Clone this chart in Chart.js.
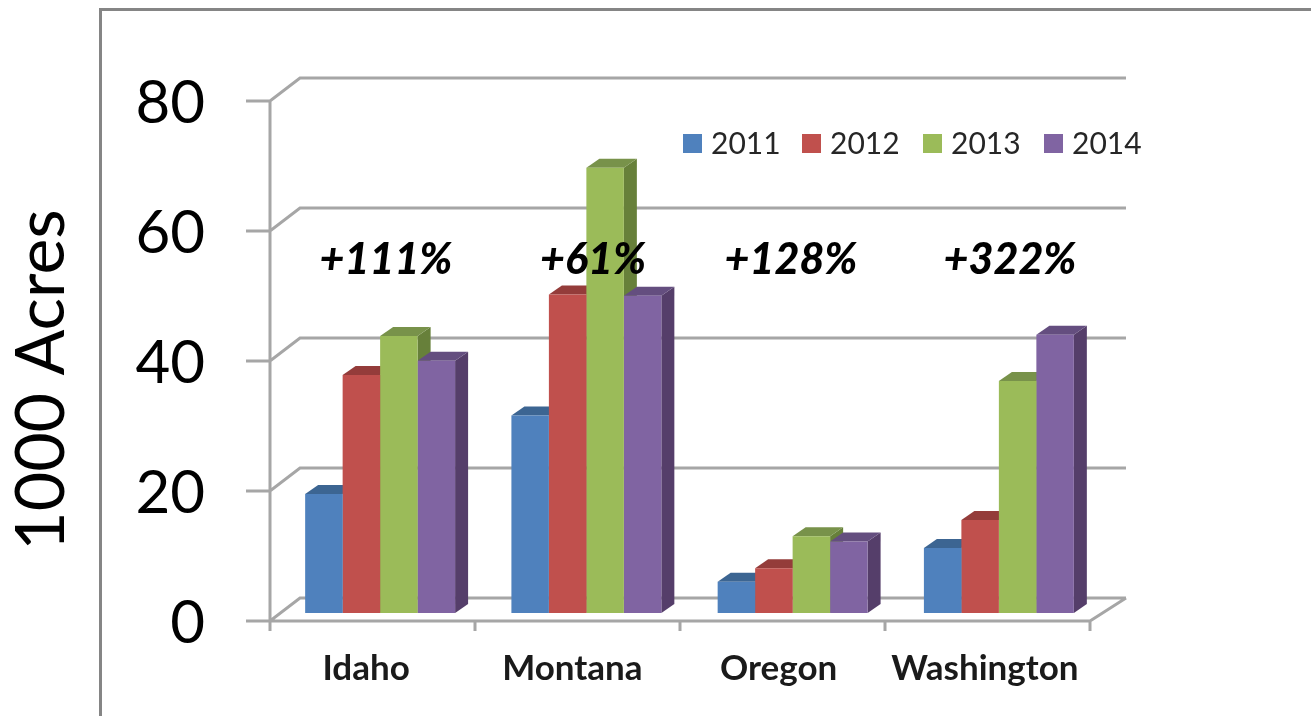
<!DOCTYPE html>
<html>
<head>
<meta charset="utf-8">
<title>1000 Acres by state</title>
<script src="https://cdn.jsdelivr.net/npm/chart.js@4"></script>
<style>
    html, body { margin: 0; padding: 0; background: #fff; overflow: hidden; }
    #frame { position: absolute; left: 99px; top: 8px; right: 0; bottom: 0; border-left: 3px solid #858585; border-top: 3px solid #858585; }
    #graph { position: absolute; left: 0; top: 0; }
</style>
</head>
<body>
<div id="frame"></div>
<canvas id="graph" width="1311" height="716"></canvas>
<script>
const states = ['Idaho', 'Montana', 'Oregon', 'Washington'];
const years = ['2011', '2012', '2013', '2014'];
const values2011 = [18.3, 30.4, 4.8, 10];
const values2012 = [36.6, 49, 6.9, 14.3];
const values2013 = [42.6, 68.5, 11.8, 35.7];
const values2014 = [38.8, 48.8, 11, 42.8];
const changes = ['+111%', '+61%', '+128%', '+322%'];
const changeX = [386, 593, 791, 1010];

const frontColors = ['#4f81bd', '#c0504d', '#9bbb59', '#8064a2'];
const topColors = ['#3c6592', '#943c3a', '#78924a', '#644e7f'];
const sideColors = ['#355a84', '#843533', '#67803a', '#553e6a'];
const legendBoxX = [683, 802, 923, 1044];

const lineColor = '#a6a6a6';
const fontName = 'Lato, "Open Sans", sans-serif';

// the walls and floor of the fake 3d box, behind the bars
const wallPlugin = {
    id: 'walls',
    beforeDatasetsDraw(chart) {
        const ctx = chart.ctx;
        const y = chart.scales.y;
        const left = 270, right = 1090, backLeft = 300, backRight = 1126;
        const shift = 8, rise = 23;

        ctx.save();
        ctx.strokeStyle = lineColor;
        ctx.lineWidth = 3;
        ctx.beginPath();

        // front axis
        ctx.moveTo(left, y.getPixelForValue(80) + shift);
        ctx.lineTo(left, y.getPixelForValue(0) + shift + 10);

        y.ticks.forEach(function (t) {
            let py = y.getPixelForValue(t.value) + shift;
            ctx.moveTo(246, py);
            ctx.lineTo(left, py);
            ctx.lineTo(backLeft, py - rise);
            ctx.lineTo(backRight, py - rise);
        });

        // floor
        let floor = y.getPixelForValue(0) + shift;
        ctx.moveTo(left, floor);
        ctx.lineTo(right, floor);
        ctx.lineTo(backRight, floor - rise);

        for (let i = 0; i <= states.length; i++) {
            let px = left + i * (right - left) / states.length;
            ctx.moveTo(px, floor);
            ctx.lineTo(px, floor + 10);
        }
        ctx.stroke();

        // side and top of each bar, the fronts go over them
        const dx = 13, dy = 9;
        chart.data.datasets.forEach(function (ds, d) {
            chart.getDatasetMeta(d).data.forEach(function (bar) {
                let x0 = bar.x - bar.width / 2;
                let x1 = bar.x + bar.width / 2;

                ctx.fillStyle = sideColors[d];
                ctx.beginPath();
                ctx.moveTo(x1, bar.y);
                ctx.lineTo(x1 + dx, bar.y - dy);
                ctx.lineTo(x1 + dx, bar.base - dy);
                ctx.lineTo(x1, bar.base);
                ctx.closePath();
                ctx.fill();

                ctx.fillStyle = topColors[d];
                ctx.beginPath();
                ctx.moveTo(x0, bar.y);
                ctx.lineTo(x0 + dx, bar.y - dy);
                ctx.lineTo(x1 + dx, bar.y - dy);
                ctx.lineTo(x1, bar.y);
                ctx.closePath();
                ctx.fill();
            });
        });
        ctx.restore();
    }
};

// legend, axis title and the percent notes sit on top of everything
const notesPlugin = {
    id: 'notes',
    afterDatasetsDraw(chart) {
        const ctx = chart.ctx;
        ctx.save();
        ctx.textBaseline = 'middle';

        ctx.font = '30px ' + fontName;
        ctx.textAlign = 'left';
        years.forEach(function (year, i) {
            ctx.fillStyle = frontColors[i];
            ctx.fillRect(legendBoxX[i], 134, 19, 19);
            ctx.fillStyle = '#262626';
            ctx.fillText(year, legendBoxX[i] + 28, 144);
        });

        ctx.font = 'italic 900 43px ' + fontName;
        ctx.textAlign = 'center';
        ctx.fillStyle = '#000';
        changes.forEach(function (note, i) {
            ctx.fillText(note, changeX[i], 260);
        });

        // the title is lower than the middle of the axis so it can't be an axis title
        ctx.translate(42, 380);
        ctx.rotate(-Math.PI / 2);
        ctx.font = '68px ' + fontName;
        ctx.fillText('1000 Acres', 0, 0);
        ctx.restore();
    }
};

const chartCtx = document.getElementById('graph').getContext('2d');

const chart = new Chart(chartCtx, {
    type: 'bar',
    data: {
        labels: states,
        datasets: [
            { label: years[0], data: values2011, backgroundColor: frontColors[0] },
            { label: years[1], data: values2012, backgroundColor: frontColors[1] },
            { label: years[2], data: values2013, backgroundColor: frontColors[2] },
            { label: years[3], data: values2014, backgroundColor: frontColors[3] }
        ]
    },
    plugins: [wallPlugin, notesPlugin],
    options: {
        responsive: false,
        animation: false,
        layout: { padding: { top: 93, right: 209, left: 0, bottom: 0 } },
        datasets: { bar: { barPercentage: 1, categoryPercentage: 0.727 } },
        plugins: { legend: { display: false }, tooltip: { enabled: false } },
        scales: {
            x: {
                grid: { display: false, drawTicks: false },
                border: { display: false },
                afterFit: function (scale) { scale.height = 103; },
                ticks: {
                    color: '#1a1a1a',
                    font: { family: fontName, size: 35, weight: 'bold' },
                    padding: 35,
                    labelOffset: -14,
                    maxRotation: 0,
                    autoSkip: false
                }
            },
            y: {
                min: 0,
                max: 80,
                grid: { display: false, drawTicks: false },
                border: { display: false },
                afterFit: function (scale) {
                    scale.width = 277;
                    // the big tick padding also gets added above and below the axis
                    scale.paddingTop = 0;
                    scale.paddingBottom = 0;
                },
                ticks: {
                    stepSize: 20,
                    color: '#000',
                    font: { family: fontName, size: 60 },
                    padding: 72,
                    labelOffset: 11
                }
            }
        }
    }
});
</script>
</body>
</html>
